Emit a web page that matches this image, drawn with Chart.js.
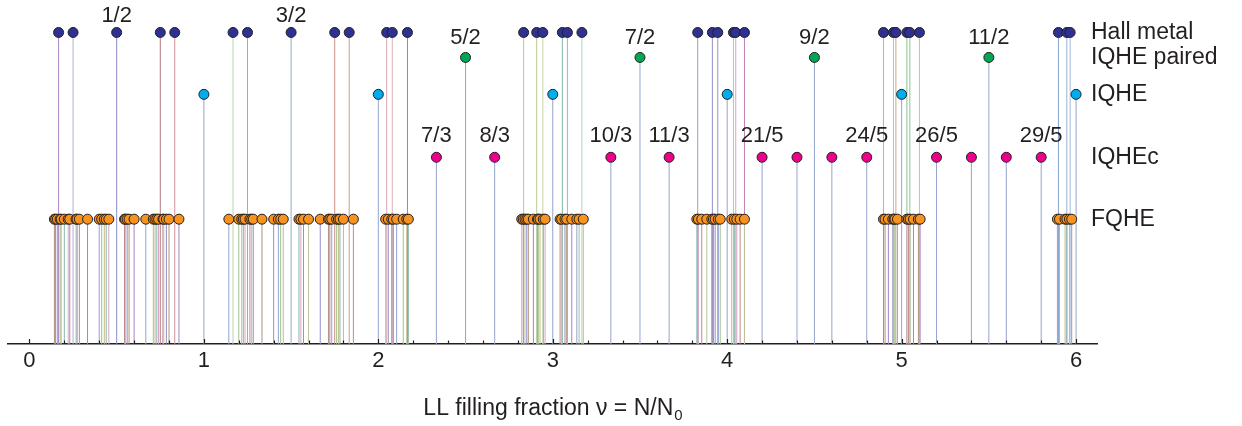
<!DOCTYPE html>
<html>
<head>
<meta charset="utf-8">
<script src="https://cdn.jsdelivr.net/npm/chart.js@4/dist/chart.umd.min.js"></script>
<style>
  html, body { margin: 0; padding: 0; background: #fff; }
  canvas { display: block; }
</style>
</head>
<body>
<canvas id="chart" width="1242" height="426"></canvas>
<script>
// filling fractions of each kind of state
const hallMetal = [0.167, 0.25, 0.5, 0.75, 0.833, 1.167, 1.25, 1.5, 1.75, 1.833,
  2.048, 2.08, 2.167, 2.833, 2.908, 2.943, 3.055, 3.084, 3.167,
  3.831, 3.915, 3.946, 4.036, 4.049, 4.099, 4.896, 4.953, 4.967, 5.03, 5.047, 5.102,
  5.899, 5.947, 5.966];
const iqhePaired = [2.5, 3.5, 4.5, 5.5];
const iqhe = [1, 2, 3, 4, 5, 6];
const iqhec = [2.333, 2.667, 3.333, 3.667, 4.2, 4.4, 4.6, 4.8, 5.2, 5.4, 5.6, 5.8];
const fqhe = [
  0.143, 0.15, 0.16, 0.176, 0.182, 0.2, 0.222, 0.231, 0.267, 0.273, 0.286, 0.333,
  0.4, 0.414, 0.429, 0.44, 0.455, 0.545, 0.55, 0.56, 0.571, 0.6, 0.667,
  0.71, 0.72, 0.73, 0.74, 0.765, 0.77, 0.785, 0.8, 0.857,
  1.143, 1.2, 1.217, 1.226, 1.236, 1.264, 1.274, 1.283, 1.333, 1.4, 1.427, 1.44, 1.455,
  1.545, 1.556, 1.571, 1.6, 1.667, 1.714, 1.722, 1.733, 1.761, 1.771, 1.78, 1.8, 1.857,
  2.042, 2.057, 2.077, 2.086, 2.105, 2.143, 2.163, 2.172,
  2.822, 2.831, 2.841, 2.851, 2.86, 2.889, 2.912, 2.917, 2.927, 2.946, 2.956,
  3.042, 3.051, 3.07, 3.08, 3.109, 3.138, 3.151, 3.175,
  3.826, 3.835, 3.854, 3.883, 3.912, 3.921, 3.931, 3.949, 3.96,
  4.026, 4.041, 4.055, 4.074, 4.099,
  4.896, 4.905, 4.924, 4.949, 4.957, 4.962, 4.976, 5.03, 5.039, 5.049, 5.068, 5.096, 5.106,
  5.893, 5.905, 5.937, 5.947, 5.962, 5.975];

// row heights (arbitrary units, baseline = 0)
const levelNames = ['Hall metal', 'IQHE paired', 'IQHE', 'IQHEc', 'FQHE'];
const levelHeights = [312, 287, 250, 187, 125];

// fraction labels
const halfLabels = ['1/2', '3/2'];
const halfLabelX = [0.5, 1.5];
const pairedLabels = ['5/2', '7/2', '9/2', '11/2'];
const iqhecLabels = ['7/3', '8/3', '10/3', '11/3', '21/5', '24/5', '26/5', '29/5'];
const iqhecLabelX = [2.333, 2.667, 3.333, 3.667, 4.2, 4.8, 5.2, 5.8];

const xTickValues = [0, 1, 2, 3, 4, 5, 6];
const xTickLabels = ['0', '1', '2', '3', '4', '5', '6'];
const xTitle = 'LL filling fraction ν = N/N';
const xTitleSub = '0';

const INK = '#231f20';
const FONT = '"Liberation Sans", Arial, Helvetica, sans-serif';
const stemBlue = '#95a3cf';
const stemPalette = ['#b39079', '#a584c6', '#8fa3d2', '#9fc48f', '#c6bb7f', '#86b7ad', '#d3a6c8', '#c5848f', '#b9c69a', '#8f8fc9'];
const hallStemColors = ['#a888c8', '#a9b4d8', '#8a8ac8', '#b07a7e', '#d0909a',
  '#b8d4a8', '#98b888', '#98a8cc', '#c89088', '#c89a8c', '#d8a8b0', '#d8b0b8', '#c07880',
  '#b8c890', '#b8c890', '#c8d4a8', '#80b8a8', '#90c0b0', '#b0d4c8',
  '#a098c8', '#9090c8', '#9898c8', '#d8b0d0', '#d0a8c8', '#c080b0',
  '#c8b090', '#d0b898', '#c8a888', '#88c090', '#90c890', '#a8d0a0',
  '#88a0c8', '#98b0d0', '#a0b8d8'];

function stemData(xs, level) {
  const pts = [];
  xs.forEach(x => { pts.push({ x, y: 0 }, { x, y: level }, { x, y: null }); });
  return pts;
}

function stemSet(xs, level, colorFor) {
  return {
    type: 'scatter',
    data: stemData(xs, level),
    showLine: true,
    spanGaps: false,
    pointRadius: 0,
    borderWidth: 1,
    borderColor: stemBlue,
    segment: { borderColor: ctx => colorFor(Math.floor(ctx.p0DataIndex / 3)) },
    order: 5
  };
}

function pointSet(xs, level, fill) {
  return {
    type: 'scatter',
    data: xs.map(x => ({ x, y: level })),
    showLine: false,
    pointRadius: 5,
    pointBackgroundColor: fill,
    pointBorderColor: INK,
    pointBorderWidth: 1,
    order: 1
  };
}

const textPlugin = {
  id: 'texts',
  afterDatasetsDraw(chart) {
    const { ctx, chartArea, scales: { x, y } } = chart;
    ctx.save();
    ctx.fillStyle = INK;
    ctx.textAlign = 'center';
    ctx.textBaseline = 'middle';
    ctx.font = '22px ' + FONT;
    halfLabels.forEach((t, i) => ctx.fillText(t, x.getPixelForValue(halfLabelX[i]), y.getPixelForValue(levelHeights[0] + 17)));
    pairedLabels.forEach((t, i) => ctx.fillText(t, x.getPixelForValue(iqhePaired[i]), y.getPixelForValue(levelHeights[1] + 20)));
    iqhecLabels.forEach((t, i) => ctx.fillText(t, x.getPixelForValue(iqhecLabelX[i]), y.getPixelForValue(levelHeights[3] + 21)));

    ctx.textAlign = 'left';
    ctx.font = '23px ' + FONT;
    levelNames.forEach((t, i) => ctx.fillText(t, chartArea.right - 6, y.getPixelForValue(levelHeights[i])));

    // axis title with subscript
    ctx.font = '23px ' + FONT;
    const w = ctx.measureText(xTitle).width;
    ctx.font = '15px ' + FONT;
    const ws = ctx.measureText(xTitleSub).width;
    const cx = (chartArea.left + chartArea.right) / 2;
    const left = cx - (w + ws) / 2;
    const ty = chartArea.bottom + 63;
    ctx.textBaseline = 'alphabetic';
    ctx.font = '23px ' + FONT;
    ctx.fillText(xTitle, left, ty + 8);
    ctx.font = '15px ' + FONT;
    ctx.fillText(xTitleSub, left + w + 1, ty + 13);

    // small inward ticks on the axis
    ctx.strokeStyle = INK;
    ctx.lineWidth = 1.2;
    const y0 = chartArea.bottom;
    for (let k = 0; k <= 30; k++) {
      const px = Math.round(x.getPixelForValue(k / 5)) + 0.5;
      const len = k % 5 === 0 ? 5 : 3.5;
      ctx.beginPath();
      ctx.moveTo(px, y0);
      ctx.lineTo(px, y0 - len);
      ctx.stroke();
    }
    ctx.restore();
  }
};

new Chart(document.getElementById('chart'), {
  type: 'scatter',
  data: {
    datasets: [
      stemSet(fqhe, levelHeights[4], i => stemPalette[i % stemPalette.length]),
      stemSet(iqhec, levelHeights[3], () => stemBlue),
      stemSet(iqhe, levelHeights[2], () => stemBlue),
      stemSet(iqhePaired, levelHeights[1], () => stemBlue),
      stemSet(hallMetal, levelHeights[0], i => hallStemColors[i]),
      pointSet(fqhe, levelHeights[4], '#f7931e'),
      pointSet(iqhec, levelHeights[3], '#ec008c'),
      pointSet(iqhe, levelHeights[2], '#00aeef'),
      pointSet(iqhePaired, levelHeights[1], '#00a651'),
      pointSet(hallMetal, levelHeights[0], '#2e3192')
    ]
  },
  options: {
    responsive: false,
    animation: false,
    layout: { padding: { left: 8, right: 145, top: 0, bottom: 0 } },
    plugins: {
      legend: { display: false },
      tooltip: { enabled: false }
    },
    scales: {
      x: {
        type: 'linear',
        min: -0.123,
        max: 6.12,
        grid: { display: false, drawTicks: false },
        border: { display: true, color: INK, width: 1.5 },
        afterBuildTicks: scale => { scale.ticks = xTickValues.map(v => ({ value: v })); },
        ticks: {
          autoSkip: false,
          maxRotation: 0,
          padding: 4,
          color: INK,
          font: { size: 22, family: FONT },
          callback: (v) => xTickLabels[xTickValues.indexOf(v)]
        },
        afterFit: scale => { scale.height = 82; }
      },
      y: { display: false, min: 0, max: 338.5 }
    }
  },
  plugins: [textPlugin]
});
</script>
</body>
</html>
